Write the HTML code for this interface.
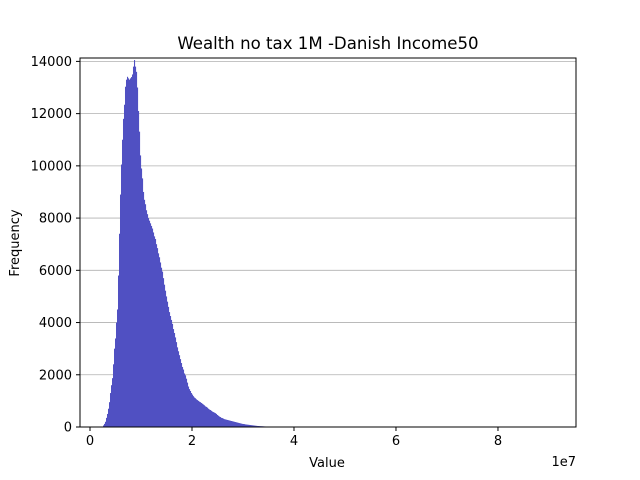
<!DOCTYPE html>
<html><head><meta charset="utf-8"><style>
body{margin:0;background:#fff}
svg{display:block;font-family:"DejaVu Sans","Liberation Sans",sans-serif}
</style></head><body>
<svg id="c" width="640" height="480"></svg>
<script>
const binStart = 2.55e6;
const binWidth = 1.96e5;
const counts = [60,120,200,350,500,700,950,1300,1600,1870,2400,3000,3390,4000,4500,5800,7400,8900,10050,11000,11800,12340,13030,13300,13410,13350,13300,13350,13400,13500,13800,14050,13800,13600,13000,12100,11310,10400,9900,9520,9000,8700,8530,8300,8150,8000,7900,7800,7700,7600,7450,7300,7200,7000,6850,6650,6500,6300,6100,5950,5700,5450,5220,5000,4800,4600,4400,4250,4100,3950,3750,3600,3430,3250,3050,2900,2750,2600,2450,2300,2200,2050,1980,1850,1700,1550,1450,1380,1300,1240,1180,1130,1100,1060,1030,1000,970,950,920,890,860,830,790,770,740,700,670,650,620,590,570,550,530,500,460,430,400,380,350,340,320,300,290,280,270,260,250,240,230,220,210,200,190,180,170,160,150,140,130,120,115,110,100,95,90,85,80,75,70,65,60,55,50,45,40,38,35,32,30,28,25,22,20,18,16,14,12,10,9,8,7,6,5,4,3,2];
const xTicks = [0,2,4,6,8];
const yTicks = [0,2000,4000,6000,8000,10000,12000,14000];
const L=80,R=576,T=58,B=427;
const xMin=-0.196e7, xMax=9.53e7, yMax=14130;
const X=v=>L+(v-xMin)/(xMax-xMin)*(R-L);
const Y=v=>B-v/yMax*(B-T);
const svg=document.getElementById('c');const NS='http://www.w3.org/2000/svg';
function mk(t,a,txt){const e=document.createElementNS(NS,t);for(const k in a)e.setAttribute(k,a[k]);if(txt!=null)e.textContent=txt;svg.appendChild(e);return e;}
yTicks.forEach(v=>{if(v>0){const g=mk('line',{x1:L,x2:R,y1:Y(v),y2:Y(v),stroke:'#b0b0b0','stroke-width':0.8});

}});
counts.forEach((c,i)=>{const x0=X(binStart+i*binWidth),x1=X(binStart+(i+1)*binWidth);
const r=mk('rect',{x:x0,y:Y(c),width:x1-x0+0.1,height:B-Y(c),fill:'#5050c2'});

});
const f=mk('rect',{x:L,y:T,width:R-L,height:B-T,fill:'none',stroke:'#000','stroke-width':1});


xTicks.forEach(v=>{const x=X(v*1e7);mk('line',{x1:x,x2:x,y1:B,y2:B+4,stroke:'#000'});
const t=mk('text',{x:x,y:B+18,'font-size':13,'text-anchor':'middle'},String(v));

});
yTicks.forEach(v=>{const y=Y(v);mk('line',{x1:L-4,x2:L,y1:y,y2:y,stroke:'#000'});
const t=mk('text',{x:L-8,y:y+4.5,'font-size':13,'text-anchor':'end'},String(v));

});
let t=mk('text',{x:328,y:49,'font-size':16.6,'text-anchor':'middle'},'Wealth no tax 1M -Danish Income50');

t=mk('text',{x:327,y:467,'font-size':13,'text-anchor':'middle'},'Value');

t=mk('text',{x:19,y:243,'font-size':13,'text-anchor':'middle',transform:'rotate(-90 19 243)'},'Frequency');

t=mk('text',{x:576,y:466,'font-size':13,'text-anchor':'end'},'1e7');

</script>
</body></html>
